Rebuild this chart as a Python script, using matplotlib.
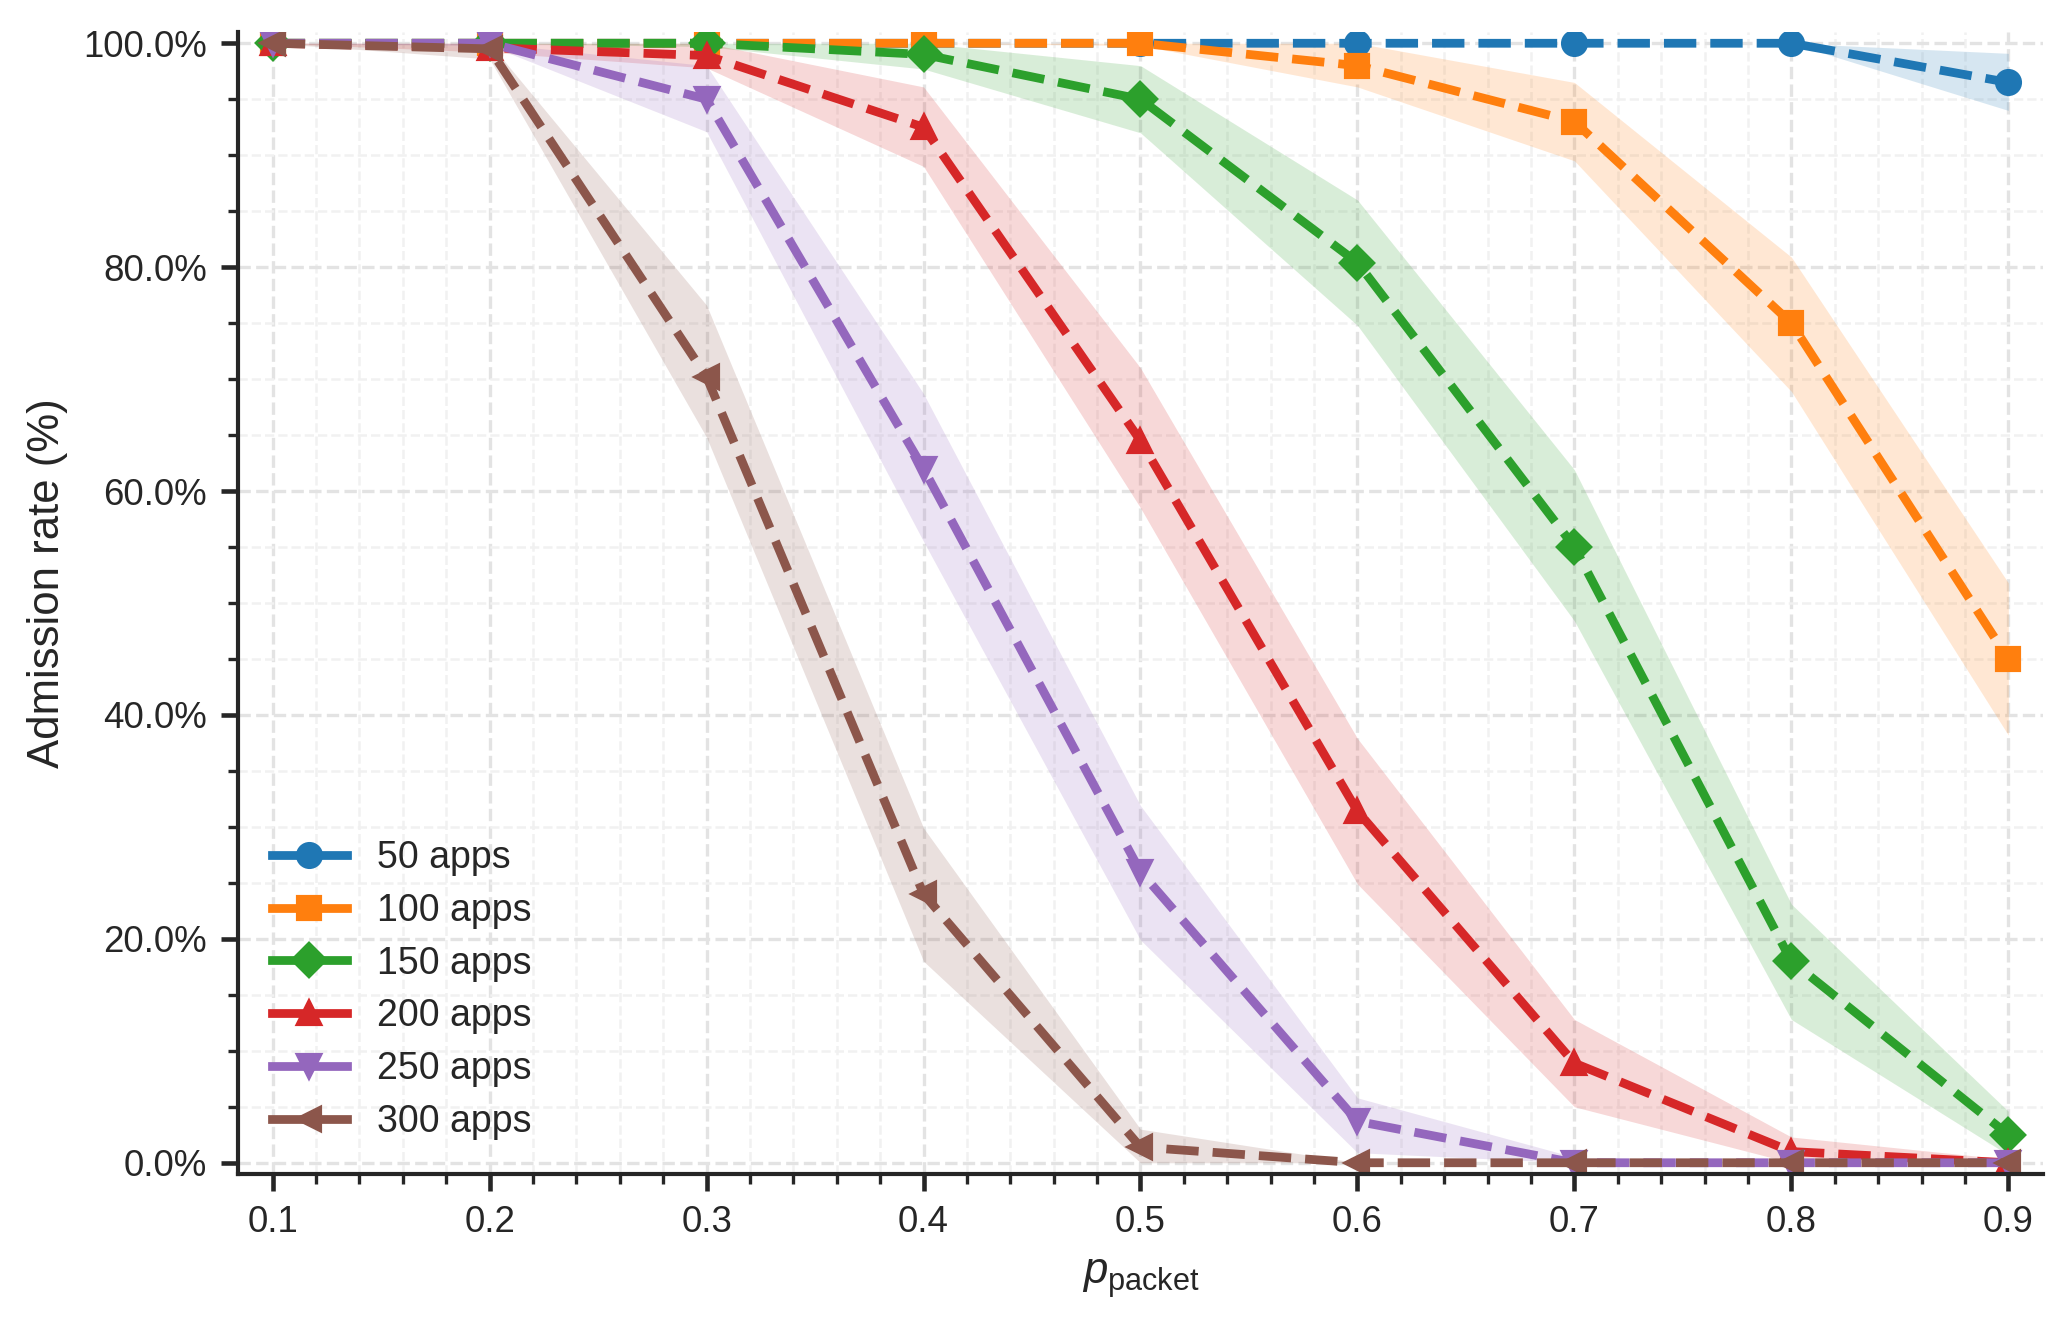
import numpy as np
import matplotlib
matplotlib.use('Agg')
import matplotlib.pyplot as plt
from matplotlib.lines import Line2D
from matplotlib.ticker import MultipleLocator, PercentFormatter

plt.rcParams['font.family'] = ['Liberation Sans', 'DejaVu Sans']
plt.rcParams['mathtext.fontset'] = 'custom'
plt.rcParams['mathtext.rm'] = 'Liberation Sans'
plt.rcParams['mathtext.it'] = 'Liberation Sans:italic'
plt.rcParams['text.color'] = '#262626'
plt.rcParams['axes.labelcolor'] = '#262626'
plt.rcParams['xtick.color'] = '#262626'
plt.rcParams['ytick.color'] = '#262626'

# x values
p_packet = [0.1, 0.2, 0.3, 0.4, 0.5, 0.6, 0.7, 0.8, 0.9]

labels = ['50 apps', '100 apps', '150 apps', '200 apps', '250 apps', '300 apps']

# mean admission rate (%) per app count
rate_50 = [100, 100, 100, 100, 100, 100, 100, 100, 96.5]
rate_100 = [100, 100, 100, 100, 100, 98.0, 93.0, 75.0, 45.0]
rate_150 = [100, 100, 100, 99.0, 95.0, 80.4, 55.0, 18.0, 2.5]
rate_200 = [100, 99.6, 98.9, 92.5, 64.5, 31.4, 8.9, 1.0, 0.0]
rate_250 = [100, 100, 95.0, 62.0, 26.0, 3.7, 0.0, 0.0, 0.0]
rate_300 = [100, 99.5, 70.2, 24.0, 1.4, 0.0, 0.0, 0.0, 0.0]

# shaded band, lower / upper
lo_50 = [100, 100, 100, 100, 100, 100, 100, 100, 94.0]
hi_50 = [100, 100, 100, 100, 100, 100, 100, 100, 99.1]
lo_100 = [100, 100, 100, 100, 99.8, 96.1, 89.5, 68.9, 38.2]
hi_100 = [100, 100, 100, 100, 100, 100, 96.5, 80.9, 51.8]
lo_150 = [100, 100, 99.7, 97.7, 92.0, 74.8, 48.4, 12.8, 0.7]
hi_150 = [100, 100, 100, 100, 98.0, 86.0, 61.9, 23.1, 4.6]
lo_200 = [100, 99.2, 97.8, 89.0, 58.5, 24.9, 5.0, 0.0, 0.0]
hi_200 = [100, 100, 100, 96.1, 71.0, 37.9, 12.8, 2.3, 0.3]
lo_250 = [100, 99.8, 92.1, 55.5, 19.9, 0.9, 0.0, 0.0, 0.0]
hi_250 = [100, 100, 98.0, 68.7, 31.9, 5.8, 0.5, 0.0, 0.0]
lo_300 = [100, 98.6, 64.8, 18.0, 0.0, 0.0, 0.0, 0.0, 0.0]
hi_300 = [100, 100, 76.6, 29.9, 3.0, 0.0, 0.0, 0.0, 0.0]

rates = [rate_50, rate_100, rate_150, rate_200, rate_250, rate_300]
lows = [lo_50, lo_100, lo_150, lo_200, lo_250, lo_300]
highs = [hi_50, hi_100, hi_150, hi_200, hi_250, hi_300]
markers = ['o', 's', 'D', '^', 'v', '<']
colors = ['tab:blue', 'tab:orange', 'tab:green', 'tab:red', 'tab:purple', 'tab:brown']

fig, ax = plt.subplots(figsize=(2071 / 300., 1325 / 300.), dpi=300)
fig.subplots_adjust(left=0.1149, right=0.9865, bottom=0.114, top=0.9758)

handles = []
for y, lo, hi, m, c, lab in zip(rates, lows, highs, markers, colors, labels):
    ax.fill_between(p_packet, lo, hi, color=c, alpha=0.18, linewidth=0)
    ax.plot(p_packet, y, linestyle='--', marker=m, color=c, lw=2.1,
            markersize=5.5)
    # legend shows solid lines
    handles.append(Line2D([], [], color=c, lw=2.1, marker=m, markersize=5.5,
                          label=lab))

ax.set_xlim(0.084, 0.916)
ax.set_ylim(-1, 101)
ax.xaxis.set_minor_locator(MultipleLocator(0.02))
ax.yaxis.set_major_locator(MultipleLocator(20))
ax.yaxis.set_minor_locator(MultipleLocator(5))
ax.yaxis.set_major_formatter(PercentFormatter(decimals=1))
ax.set_xticks(p_packet)
ax.set_xticklabels(['%.1f' % v for v in p_packet])

ax.grid(which='major', linestyle='--', color='#e3e3e3', lw=0.8)
ax.grid(which='minor', linestyle='--', color='#f1f1f1', lw=0.6)
ax.set_axisbelow(True)

for s in ['top', 'right']:
    ax.spines[s].set_visible(False)
for s in ['left', 'bottom']:
    ax.spines[s].set_linewidth(1.0)
    ax.spines[s].set_color('#262626')
ax.tick_params(which='major', length=4, width=1.1, labelsize=8.8, pad=3.5)
ax.tick_params(which='minor', length=2.5, width=0.8)

ax.set_xlabel(r'$p_{\mathrm{packet}}$', fontsize=10.5)
ax.set_ylabel('Admission rate (%)', fontsize=10.5)
ax.yaxis.set_label_coords(-0.094, 0.5175)

ax.legend(handles=handles, loc='lower left', frameon=False, fontsize=9,
          labelspacing=0.45)

fig.savefig('out.png', dpi=300)
